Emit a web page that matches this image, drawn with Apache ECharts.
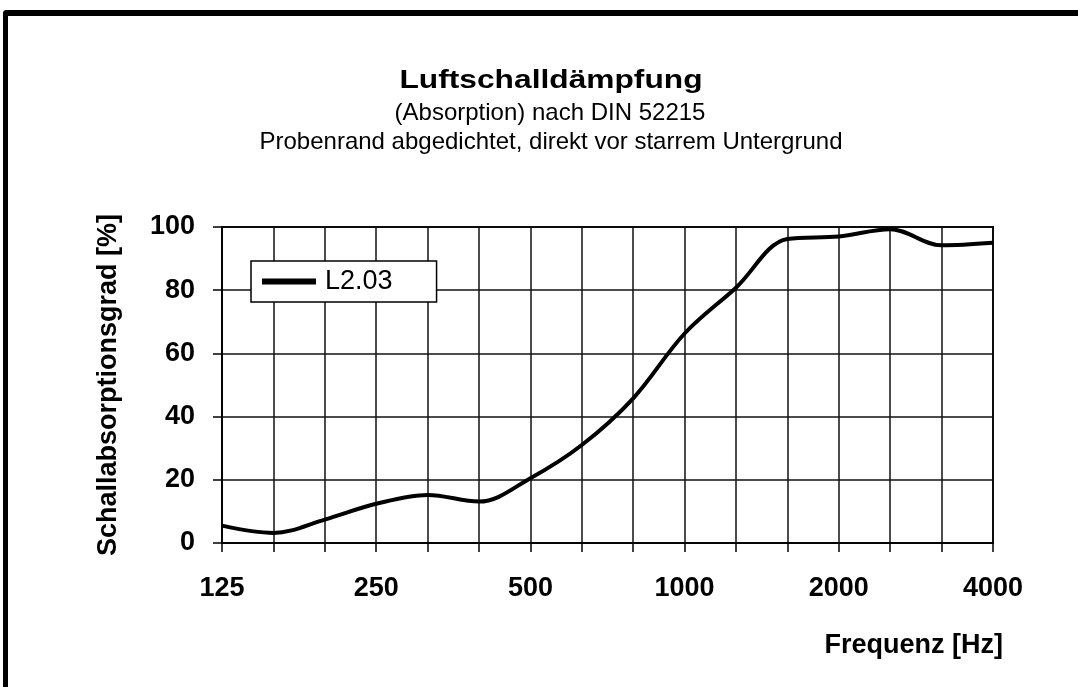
<!DOCTYPE html>
<html>
<head>
<meta charset="utf-8">
<script src="https://cdn.jsdelivr.net/npm/echarts@6/dist/echarts.min.js"></script>
<style>
  html, body { margin: 0; padding: 0; background: #fff; }
  #frame { position: absolute; left: 3px; top: 10px; width: 1200px; height: 800px;
           border-left: 5px solid #000; border-top: 6px solid #000; border-top-left-radius: 4px; }
  #main { position: absolute; left: 0; top: 0; width: 1078px; height: 687px; }
</style>
</head>
<body>
<div id="frame"></div>
<div id="main"></div>
<script>
// Terzbänder
var frequencies = ['125', '160', '200', '250', '315', '400', '500', '630', '800',
                   '1000', '1250', '1600', '2000', '2500', '3150', '4000'];
// Schallabsorptionsgrad in %
var absorption = [5.5, 3.2, 7.4, 12.4, 15.2, 13.1, 20.5, 31, 45.8, 66.3, 80.8, 96.2, 97, 99.3, 94.2, 95];
var seriesName = 'L2.03';

var font = 'Liberation Sans, Arial, sans-serif';
var myChart = echarts.init(document.getElementById('main'));

myChart.setOption({
  animation: false,
  backgroundColor: 'transparent',
  legend: {
    data: [seriesName],
    left: 251, top: 261,
    orient: 'vertical',
    backgroundColor: '#fff',
    borderColor: '#000',
    borderWidth: 1.5,
    borderRadius: 0,
    padding: [7, 44, 7, 11],
    icon: 'rect',
    itemWidth: 54,
    itemHeight: 6,
    textStyle: { fontFamily: font, fontSize: 27, color: '#000', padding: [0, 0, 0, 4] }
  },
  grid: {
    left: 222, right: 85, top: 227, bottom: 144,
    show: true, borderColor: '#000', borderWidth: 2
  },
  xAxis: {
    type: 'category',
    data: frequencies,
    boundaryGap: false,
    axisLine: { lineStyle: { color: '#000', width: 1.5 } },
    axisTick: { show: true, interval: 0, length: 9, lineStyle: { color: '#000', width: 1.5 } },
    axisLabel: {
      interval: 2, margin: 32,
      fontFamily: font, fontSize: 27, fontWeight: 'bold', color: '#000'
    },
    splitLine: { show: true, interval: 0, lineStyle: { color: '#111', width: 1.5 } }
  },
  yAxis: {
    type: 'value',
    min: 0, max: 100, interval: 20,
    name: 'Schallabsorptionsgrad [%]',
    nameLocation: 'middle',
    nameGap: 100,
    nameTextStyle: { fontFamily: font, fontSize: 27, fontWeight: 'bold', color: '#000' },
    axisLine: { show: true, lineStyle: { color: '#000', width: 1.5 } },
    axisTick: { show: true, length: 9, lineStyle: { color: '#000', width: 1.5 } },
    axisLabel: { margin: 27, fontFamily: font, fontSize: 27, fontWeight: 'bold', color: '#000' },
    splitLine: { show: true, lineStyle: { color: '#111', width: 1.5 } }
  },
  graphic: [
    // Titel, leicht in die Breite gezogen wie im Original
    {
      type: 'text', x: 551, y: 81, scaleX: 1.22,
      style: { text: 'Luftschalldämpfung', font: 'bold 26px ' + font, fill: '#000',
               align: 'center', verticalAlign: 'middle' }
    },
    {
      type: 'text', x: 550, y: 113,
      style: { text: '(Absorption) nach DIN 52215', font: '24px ' + font, fill: '#000',
               align: 'center', verticalAlign: 'middle' }
    },
    {
      type: 'text', x: 551, y: 142,
      style: { text: 'Probenrand abgedichtet, direkt vor starrem Untergrund', font: '24px ' + font, fill: '#000',
               align: 'center', verticalAlign: 'middle' }
    },
    // Achsentitel x
    {
      type: 'text', x: 1003, y: 646,
      style: { text: 'Frequenz [Hz]', font: 'bold 27px ' + font, fill: '#000',
               align: 'right', verticalAlign: 'middle' }
    }
  ],
  series: [
    {
      name: seriesName,
      type: 'line',
      data: absorption,
      smooth: 0.35,
      showSymbol: false,
      symbol: 'none',
      lineStyle: { color: '#000', width: 4 },
      itemStyle: { color: '#000' }
    }
  ]
});
</script>
</body>
</html>
